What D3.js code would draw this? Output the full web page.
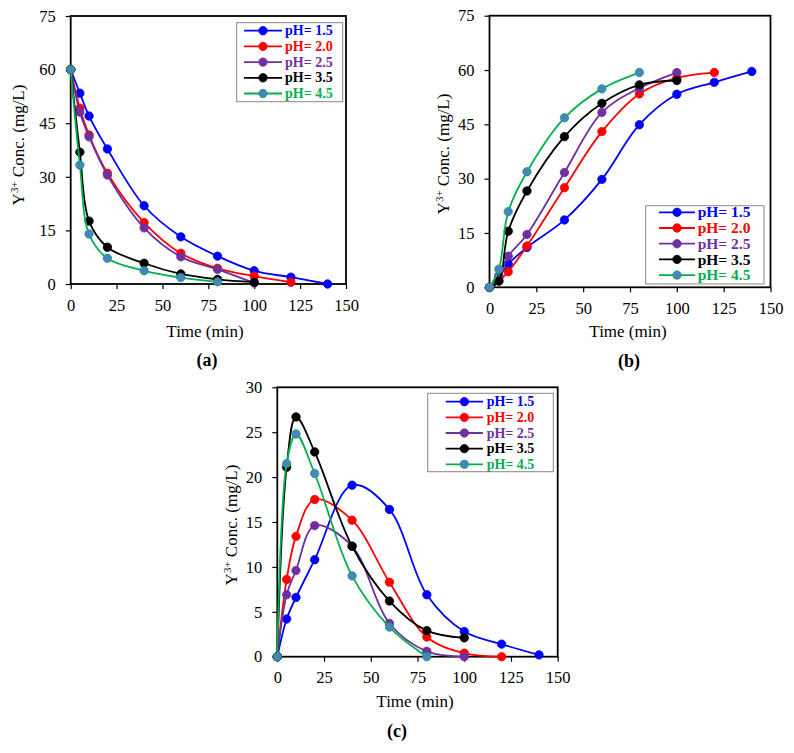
<!DOCTYPE html>
<html>
<head>
<meta charset="utf-8">
<script src="https://cdn.jsdelivr.net/npm/d3@7"></script>
<style>
  body { margin: 0; background: #fff; }
  svg { display: block; font-family: "Liberation Serif", "Times New Roman", serif; }
</style>
</head>
<body>
<svg id="chart" width="794" height="753"></svg>
<script>
// sampling times (min)
const times = [0, 5, 10, 20, 40, 60, 80, 100, 120, 140];
const phLabels = ["pH= 1.5", "pH= 2.0", "pH= 2.5", "pH= 3.5", "pH= 4.5"];
const xTicks = [0, 25, 50, 75, 100, 125, 150];
const yTicksAB = [0, 15, 30, 45, 60, 75];
const yTicksC = [0, 5, 10, 15, 20, 25, 30];

// (a) Y3+ left in solution
const a15 = [60, 53.4, 47.0, 37.8, 21.9, 13.2, 7.8, 3.7, 1.9, 0];
const a20 = [60, 49.2, 41.7, 31.0, 17.2, 8.6, 4.4, 2.2, 0.5];
const a25 = [60, 48.1, 41.2, 30.5, 15.7, 7.6, 4.1, 0.3];
const a35 = [60, 36.9, 17.6, 10.3, 5.8, 2.8, 1.3, 0.5];
const a45 = [60, 33.3, 14.0, 7.2, 3.7, 1.8, 0.6];

// (b)
const b15 = [0, 2.8, 6.4, 11.0, 18.6, 29.8, 44.9, 53.3, 56.6, 59.6];
const b20 = [0, 1.8, 4.3, 11.4, 27.5, 43.0, 53.4, 57.8, 59.3];
const b25 = [0, 3.2, 8.6, 14.6, 31.7, 48.3, 55.0, 59.3];
const b35 = [0, 1.7, 15.5, 26.6, 41.6, 50.8, 55.9, 57.1];
const b45 = [0, 5.0, 20.9, 31.9, 46.8, 54.8, 59.3];

// (c)
const c15 = [0, 4.2, 6.6, 10.8, 19.1, 16.4, 6.9, 2.8, 1.4, 0.2];
const c20 = [0, 8.6, 13.4, 17.5, 15.2, 8.3, 2.2, 0.4, 0];
const c25 = [0, 6.9, 9.6, 14.6, 12.3, 3.7, 0.6, 0];
const c35 = [0, 21.1, 26.7, 22.8, 12.3, 6.2, 2.9, 2.1];
const c45 = [0, 21.5, 24.8, 20.4, 9.0, 3.3, 0];

const lineColors = ["#0000ff", "#ff0000", "#7030a0", "#000000", "#00b050"];
const dotColors = ["#0000ff", "#ff0000", "#7030a0", "#000000", "#4f7fc4"];
const serif = '"Liberation Serif", "Times New Roman", serif';

const svg = d3.select("#chart");

function drawPanel(p) {
    const x = d3.scaleLinear().domain([0, 150]).range([p.left, p.right]);
    const y = d3.scaleLinear().domain([0, p.yMax]).range([p.bottom, p.top]);
    const g = svg.append("g");

    // axes
    const xa = g.append("g")
        .attr("transform", `translate(0,${p.bottom})`)
        .call(d3.axisBottom(x).tickValues(xTicks).tickSize(5).tickSizeOuter(0).tickPadding(10));
    const ya = g.append("g")
        .attr("transform", `translate(${p.left},0)`)
        .call(d3.axisLeft(y).tickValues(p.yTicks).tickSize(5).tickSizeOuter(0).tickPadding(10));
    [xa, ya].forEach(a => {
        a.attr("font-family", serif).attr("font-size", 16.5);
        a.selectAll("text").attr("fill", "#000");
        a.selectAll("line").attr("stroke", "#000").attr("stroke-width", 1.2);
        a.select(".domain").remove();
    });

    // frame
    g.append("rect")
        .attr("x", p.left).attr("y", p.top)
        .attr("width", p.right - p.left).attr("height", p.bottom - p.top)
        .attr("fill", "none").attr("stroke", "#000").attr("stroke-width", 1.8);

    const line = d3.line()
        .x((d, i) => x(times[i]))
        .y(d => y(d))
        .curve(d3.curveCatmullRom.alpha(0.5));

    p.series.forEach((s, k) => {
        g.append("path")
            .datum(s)
            .attr("d", line)
            .attr("fill", "none")
            .attr("stroke", lineColors[k])
            .attr("stroke-width", 1.8);
        g.selectAll(null)
            .data(s)
            .enter().append("circle")
            .attr("cx", (d, i) => x(times[i]))
            .attr("cy", d => y(d))
            .attr("r", 4.2)
            .attr("fill", dotColors[k])
            .attr("stroke", lineColors[k])
            .attr("stroke-width", 0.8);
    });

    // legend
    const L = p.legend;
    g.append("rect")
        .attr("x", L.x0).attr("y", L.y0)
        .attr("width", L.x1 - L.x0).attr("height", L.y1 - L.y0)
        .attr("fill", "#fff").attr("stroke", "#888").attr("stroke-width", 1);
    phLabels.forEach((lab, k) => {
        const ry = L.row0 + k * L.gap;
        g.append("line")
            .attr("x1", L.lx0).attr("x2", L.lx1)
            .attr("y1", ry).attr("y2", ry)
            .attr("stroke", lineColors[k]).attr("stroke-width", 1.8);
        g.append("circle")
            .attr("cx", (L.lx0 + L.lx1) / 2).attr("cy", ry).attr("r", 4.2)
            .attr("fill", dotColors[k]).attr("stroke", lineColors[k]).attr("stroke-width", 0.8);
        g.append("text")
            .attr("x", L.tx).attr("y", ry + L.fs * 0.33)
            .style("font-size", L.fs + "px")
            .style("font-weight", "bold")
            .attr("fill", lineColors[k])
            .text(lab);
    });

    // titles
    g.append("text")
        .attr("x", p.xTitle[0]).attr("y", p.xTitle[1])
        .attr("text-anchor", "middle")
        .style("font-size", "17px")
        .text("Time (min)");

    const yt = g.append("text")
        .attr("transform", `translate(${p.yTitle[0]},${p.yTitle[1]}) rotate(-90)`)
        .attr("text-anchor", "middle")
        .style("font-size", "17px");
    yt.append("tspan").text("Y");
    yt.append("tspan").attr("dy", -6).style("font-size", "11px").text("3+");
    yt.append("tspan").attr("dy", 6).text(" Conc. (mg/L)");

    g.append("text")
        .attr("x", p.tag[0]).attr("y", p.tag[1])
        .attr("text-anchor", "middle")
        .style("font-size", "18px")
        .style("font-weight", "bold")
        .text(p.tagText);
}

drawPanel({
    left: 70.7, right: 346, top: 16, bottom: 284, yMax: 75, yTicks: yTicksAB,
    series: [a15, a20, a25, a35, a45],
    legend: { x0: 236.7, x1: 342.7, y0: 22.7, y1: 101.7, row0: 30.7, gap: 15.7, lx0: 244, lx1: 282, tx: 285, fs: 14 },
    xTitle: [205, 337], yTitle: [24, 145], tag: [207, 366], tagText: "(a)"
});

drawPanel({
    left: 489.5, right: 770.5, top: 15.7, bottom: 287.3, yMax: 75, yTicks: yTicksAB,
    series: [b15, b20, b25, b35, b45],
    legend: { x0: 645.7, x1: 764, y0: 205.7, y1: 284, row0: 212.3, gap: 15.7, lx0: 659, lx1: 695, tx: 697.7, fs: 15.5 },
    xTitle: [628, 337], yTitle: [449, 154], tag: [629, 367], tagText: "(b)"
});

drawPanel({
    left: 277.3, right: 557.7, top: 387.3, bottom: 656.7, yMax: 30, yTicks: yTicksC,
    series: [c15, c20, c25, c35, c45],
    legend: { x0: 427.7, x1: 553.3, y0: 393.3, y1: 471.7, row0: 401.7, gap: 15.65, lx0: 445.7, lx1: 483, tx: 486.7, fs: 14 },
    xTitle: [415, 707], yTitle: [237, 525], tag: [397, 737], tagText: "(c)"
});
</script>
</body>
</html>
